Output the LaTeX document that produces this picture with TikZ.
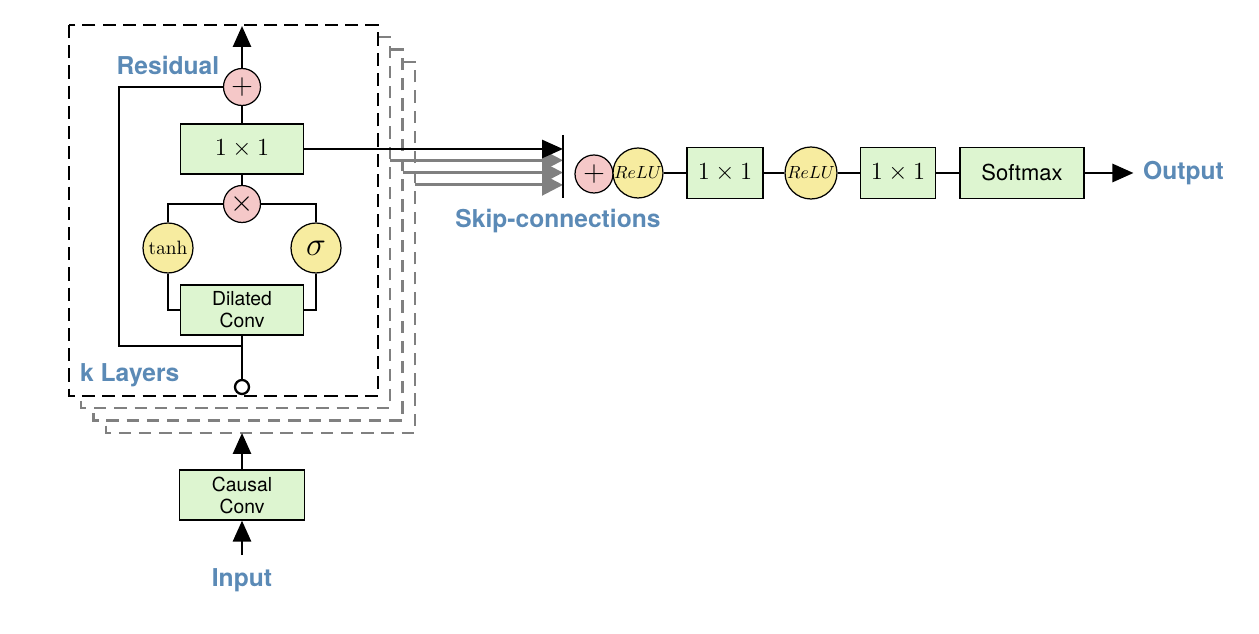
\RequirePackage{fix-cm}
\documentclass[tikz,border=0pt]{standalone}
\usepackage[no-math]{fontspec}
\setsansfont{TeX Gyre Heros}
\usepackage{xcolor}
\usetikzlibrary{arrows.meta}

\definecolor{boxgreen}{RGB}{221,245,208}
\definecolor{oppink}{RGB}{245,200,200}
\definecolor{actyellow}{RGB}{247,236,160}
\definecolor{labelblue}{RGB}{91,138,182}
\definecolor{framegray}{RGB}{128,128,128}

\begin{document}
\begin{tikzpicture}[x=0.02cm,y=-0.02cm]

% ---------- common style ----------
\tikzstyle{block}=[draw=black,fill=boxgreen,line width=0.7pt,inner sep=0pt,minimum width=2.46cm,minimum height=1cm,align=center,font=\sffamily\fontsize{11}{12.5}\selectfont]
\tikzstyle{opnode}=[circle,draw=black,fill=oppink,line width=0.7pt,inner sep=0pt,minimum size=0.74cm,font=\fontsize{17}{17}\selectfont]
\tikzstyle{act}=[circle,draw=black,fill=actyellow,line width=0.7pt,inner sep=0pt,minimum size=1cm,font=\fontsize{10.5}{10.5}\selectfont]
\tikzstyle{tap}=[circle,draw=black,fill=white,line width=1.3pt,inner sep=0pt,minimum size=0.28cm]
\tikzstyle{wire}=[line width=1.6pt]
\tikzstyle{arr}=[wire,-{Triangle[length=0.42cm,width=0.36cm]}]
\tikzstyle{bluetext}=[text=labelblue,font=\sffamily\bfseries\fontsize{14}{16}\selectfont]
\tikzstyle{unit}=[font=\fontsize{14}{15}\selectfont]

\useasboundingbox (0,0) rectangle (1259,634);

% ================== stacked layers ==================
\foreach \k in {3,2,1} {
  \draw[framegray,line width=1.3pt,dash pattern=on 7pt off 4.5pt,fill=white]
    ({69+12.3*\k},{25+12.3*\k}) rectangle ({378+12.3*\k},{396+12.3*\k});
  \coordinate (g\k) at ({378+12.3*\k},{148+12.3*\k});
}
\draw[black,line width=1.6pt,dash pattern=on 7.5pt off 4pt,fill=white] (69,25) rectangle (378,396);

% ================== one residual layer ==================
\node[opnode] (res) at (242,87) {$+$};
\node[block,unit] (top1) at (242,149) {$1\times 1$};
\node[opnode] (mult) at (242,204) {$\times$};
\node[act,font=\fontsize{11}{11}\selectfont] (tanh) at (168,248) {$\tanh$};
\node[act,font=\fontsize{19}{19}\selectfont] (sig) at (316,248) {$\sigma$};
\node[block] (dil) at (242,310) {Dilated\\Conv};
\node[tap] (tap) at (242,387) {};
\coordinate (split) at (242,346);
\coordinate (layertop) at (242,26);

\node[bluetext] (resname) at (168,65) {Residual};
\node[bluetext,anchor=west] (kname) at (74,375) {k Layers};

\draw[arr] (res.north) -- (layertop);
\draw[wire] (res.south) -- (top1.north);
\draw[wire] (top1.south) -- (mult.north);
\draw[wire] (mult.west) -| (tanh.north);
\draw[wire] (mult.east) -| (sig.north);
\draw[wire] (tanh.south) |- (dil.west);
\draw[wire] (sig.south) |- (dil.east);
\draw[wire] (tap.north) -- (dil.south);
\draw[wire] (split) -- ++(-123,0) |- (res.west);

% ================== skip-connections ==================
\coordinate (bartop) at (563,135);
\coordinate (barbot) at (563,198);
\foreach \k in {1,2,3} {
  \draw[framegray,line width=1.6pt,-{Triangle[length=0.42cm,width=0.42cm]}] (g\k) -- (g\k -| bartop);
}
\draw[arr] (top1.east) -- (top1.east -| bartop);
\draw[line width=1.5pt] (bartop) -- (barbot);
\node[bluetext] (skipname) at (558,221) {Skip-connections};

% ================== output head ==================
\node[opnode,minimum size=0.76cm] (sum) at (594,174) {$+$};
\node[act,font=\fontsize{10}{10}\selectfont] (relu1) at (638,173) {$ReLU$};
\node[block,unit,minimum width=1.52cm,minimum height=1.02cm] (b1) at (725,173) {$1\times 1$};
\node[act,minimum size=1.04cm,font=\fontsize{10}{10}\selectfont] (relu2) at (811,173) {$ReLU$};
\node[block,unit,minimum width=1.5cm,minimum height=1.02cm] (b2) at (898,173) {$1\times 1$};
\node[block,minimum width=2.48cm,minimum height=1.02cm,font=\sffamily\fontsize{12.5}{14}\selectfont] (soft) at (1022,173) {Softmax};
\node[bluetext,anchor=west] (outname) at (1137,173) {Output};

\draw[wire] (relu1.east) -- (b1.west);
\draw[wire] (b1.east) -- (relu2.west);
\draw[wire] (relu2.east) -- (b2.west);
\draw[wire] (b2.east) -- (soft.west);
\draw[arr,shorten >=2pt] (soft.east) -- (outname.west);

% ================== input ==================
\node[block,minimum width=2.5cm] (causal) at (242,495) {Causal\\Conv};
\node[bluetext] (inname) at (242,580) {Input};
\coordinate (stackbot) at (242,433);

\draw[arr] (causal.north) -- (stackbot);
\draw[arr,shorten <=4pt] (inname.north) -- (causal.south);

\end{tikzpicture}
\end{document}
